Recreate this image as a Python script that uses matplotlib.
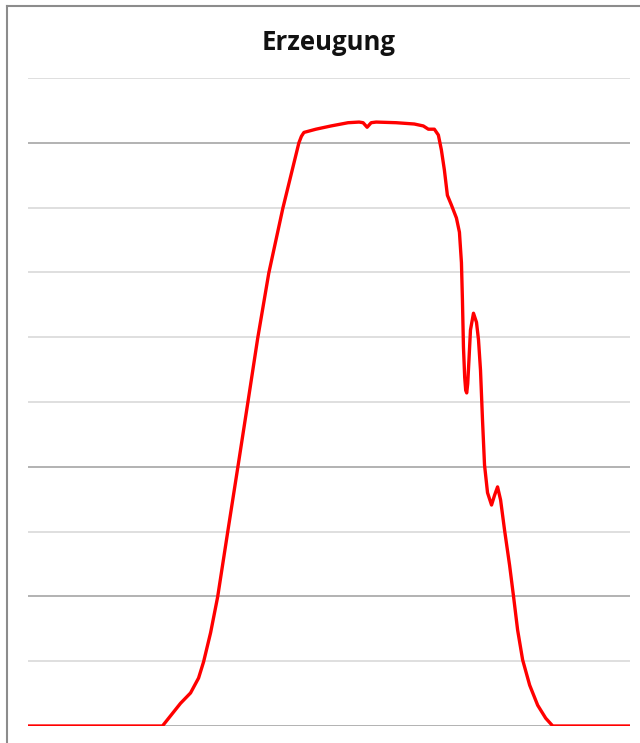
import matplotlib
matplotlib.use("Agg")
import matplotlib.pyplot as plt
from matplotlib.lines import Line2D

# Hour of day and generation (% of chart max)
hours = [0, 5.28, 5.36, 6.08, 6.48, 6.8, 7.0, 7.28, 7.56, 7.96, 8.36, 8.76,
         9.16, 9.6, 10.16, 10.8, 10.9, 11.0, 11.48, 12.08, 12.76, 13.2, 13.36,
         13.52, 13.68, 13.88, 14.68, 15.4, 15.76, 15.96, 16.2, 16.36, 16.48,
         16.6, 16.72, 16.88, 17.08, 17.2, 17.28, 17.32, 17.36, 17.41, 17.45,
         17.49, 17.53, 17.58, 17.64, 17.76, 17.88, 17.96, 18.04, 18.12, 18.2,
         18.32, 18.48, 18.6, 18.72, 18.84, 19.0, 19.2, 19.36, 19.52, 19.72,
         20.0, 20.32, 20.64, 20.92, 24]
generation = [0, 0, 0, 3.5, 5.1, 7.4, 9.9, 14.4, 19.9, 29.9, 39.8, 49.8,
              59.9, 69.9, 79.9, 90.0, 91.0, 91.6, 92.1, 92.6, 93.1, 93.2,
              93.1, 92.4, 93.1, 93.2, 93.1, 92.9, 92.6, 92.1, 92.1, 91.2,
              88.9, 85.8, 81.9, 80.4, 78.4, 76.2, 71.5, 65.7, 58.5, 53.8,
              51.8, 51.4, 52.8, 56.5, 61.1, 63.7, 62.3, 59.6, 54.9, 47.2,
              40.3, 36.0, 34.1, 35.6, 36.9, 34.9, 30.2, 24.8, 19.9, 14.8,
              10.2, 6.3, 3.2, 1.2, 0, 0]
y_ticks = [0, 10, 20, 30, 40, 50, 60, 70, 80, 90, 100]
title = "Erzeugung"

fig = plt.figure(figsize=(6.4, 7.43), dpi=100)
ax = fig.add_axes([28 / 640, 17 / 743, 602 / 640, 648 / 743])

ax.plot(hours, generation, color="#ff0000", linewidth=2.4,
        solid_joinstyle="round", solid_capstyle="round", zorder=3)

ax.set_xlim(0, 24)
ax.set_ylim(0, 100)
ax.set_yticks(y_ticks)
ax.set_xticks([])
ax.tick_params(left=False, labelleft=False)
for s in ax.spines.values():
    s.set_visible(False)

ax.grid(axis="y", color="#d9d9d9", linewidth=1.2)
ax.set_axisbelow(True)
# a few gridlines look darker in the original
for tick, gl in zip(y_ticks, ax.get_ygridlines()):
    if tick in (0, 20, 40, 90):
        gl.set_color("#a6a6a6")

fig.text(329 / 640, 1 - 42 / 743, title, ha="center", va="center",
         fontsize=18.5, fontweight="bold", family="Open Sans", color="#111111")

# chart frame (only top and left edges visible)
fig.add_artist(Line2D([7 / 640, 7 / 640], [0, 1 - 6 / 743], color="#8c8c8c",
                      linewidth=1.5, transform=fig.transFigure))
fig.add_artist(Line2D([7 / 640, 1], [1 - 6 / 743, 1 - 6 / 743], color="#8c8c8c",
                      linewidth=1.5, transform=fig.transFigure))

fig.savefig("out.png", dpi=100)
